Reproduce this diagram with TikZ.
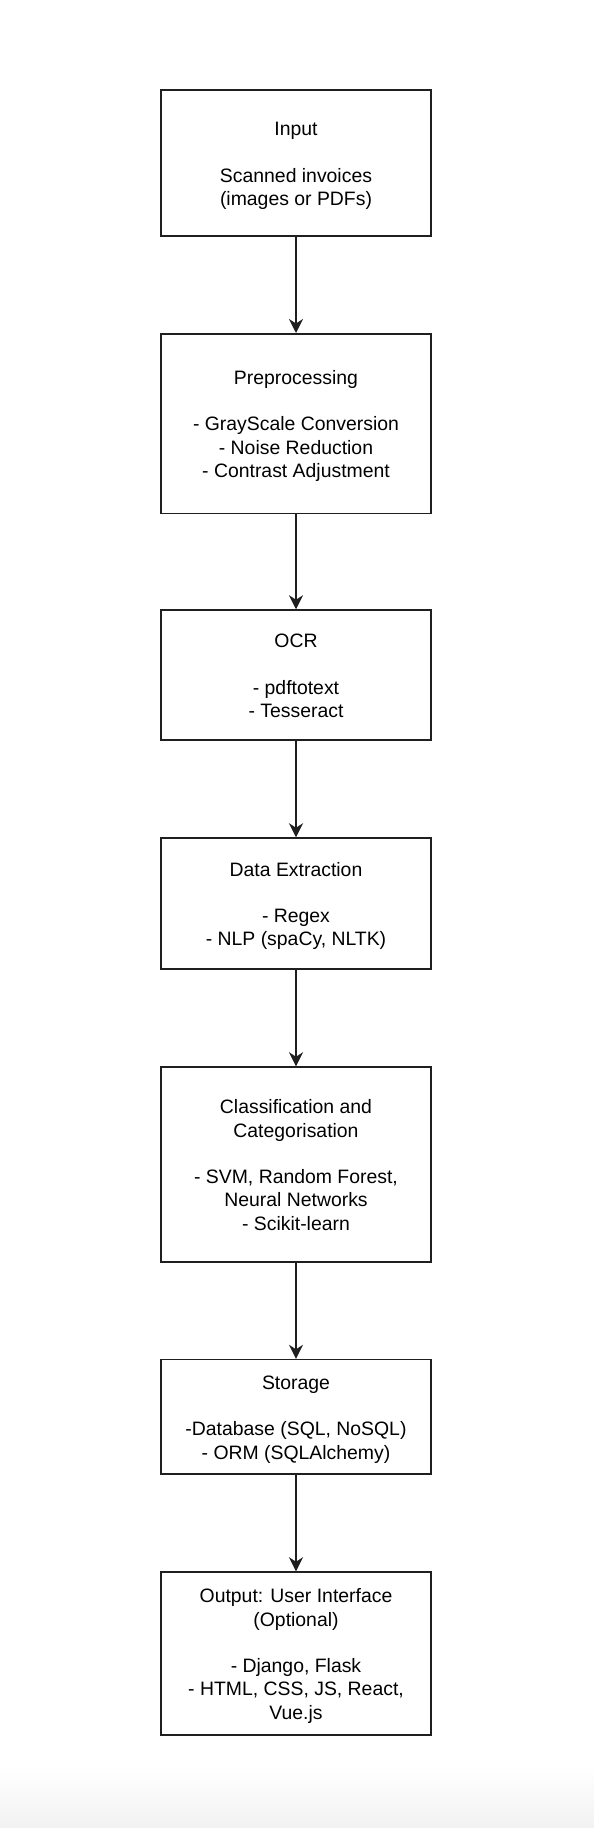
\documentclass[tikz,border=0pt]{standalone}
\usepackage{fontspec}
\setmainfont{Liberation Sans}
\usetikzlibrary{arrows.meta}
\newcommand\fsTop{\rule{0pt}{19pt}}
\newcommand\fsBot{\rule[-4pt]{0pt}{4pt}}
\begin{document}
\begin{tikzpicture}[x=1pt,y=-1pt,
  stepbox/.style={draw=black!88,line width=1.5pt,fill=white,minimum width=270pt,
    inner sep=0pt,align=center,font=\fontsize{19.4}{23.3}\selectfont,text=black},
  arr/.style={draw=black!88,line width=1.5pt,-{Stealth[length=14pt,width=14pt,inset=4.5pt]}}]
\useasboundingbox (0,0) rectangle (594,1828);
\fill[white] (0,0) rectangle (594,1828);
\shade[top color=white,bottom color=black!5] (0,1765) rectangle (594,1828);
\node[stepbox,minimum height=146pt] (in) at (296,163)
  {\fsTop Input\\[23.3pt]Scanned invoices\\(images or PDFs)\fsBot};
\node[stepbox,minimum height=179.5pt] (pre) at (296,423.5)
  {\fsTop Preprocessing\\[23.3pt]- GrayScale Conversion\\- Noise Reduction\\- Contrast Adjustment\fsBot};
\node[stepbox,minimum height=130pt] (ocr) at (296,675)
  {\fsTop OCR\\[23.3pt]- pdftotext\\- Tesseract\fsBot};
\node[stepbox,minimum height=131pt] (ext) at (296,903.5)
  {\fsTop Data Extraction\\[23.3pt]- Regex\\- NLP (spaCy, NLTK)\fsBot};
\node[stepbox,minimum height=195pt] (cls) at (296,1164.5)
  {\fsTop Classification and\\Categorisation\\[23.3pt]- SVM, Random Forest,\\Neural Networks\\- Scikit-learn\fsBot};
\node[stepbox,minimum height=114.5pt] (sto) at (296,1416.8)
  {\fsTop Storage\\[23.3pt]-Database (SQL, NoSQL)\\- ORM (SQLAlchemy)\fsBot};
\node[stepbox,minimum height=163pt] (out) at (296,1653.5)
  {\fsTop Output: User Interface\\(Optional)\\[23.3pt]- Django, Flask\\- HTML, CSS, JS, React,\\Vue.js\fsBot};
\draw[arr] (in.south) -- (pre.north);
\draw[arr] (pre.south) -- (ocr.north);
\draw[arr] (ocr.south) -- (ext.north);
\draw[arr] (ext.south) -- (cls.north);
\draw[arr] (cls.south) -- (sto.north);
\draw[arr] (sto.south) -- (out.north);
\end{tikzpicture}
\end{document}
